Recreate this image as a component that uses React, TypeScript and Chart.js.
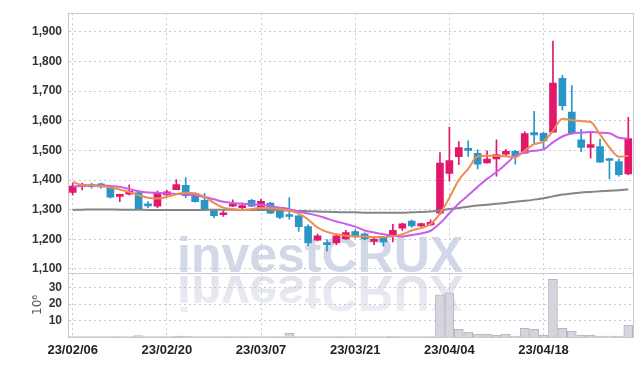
import React, { useEffect, useRef } from 'react';
import { Chart, registerables } from 'chart.js';

Chart.register(...registerables);

const DATES = [
  '23/02/06', '23/02/07', '23/02/08', '23/02/09', '23/02/10', '23/02/13', '23/02/14', '23/02/15', '23/02/16', '23/02/17',
  '23/02/20', '23/02/21', '23/02/22', '23/02/23', '23/02/24', '23/02/27', '23/02/28', '23/03/02', '23/03/03', '23/03/06',
  '23/03/07', '23/03/08', '23/03/09', '23/03/10', '23/03/13', '23/03/14', '23/03/15', '23/03/16', '23/03/17', '23/03/20',
  '23/03/21', '23/03/22', '23/03/23', '23/03/24', '23/03/27', '23/03/28', '23/03/29', '23/03/30', '23/03/31', '23/04/03',
  '23/04/04', '23/04/05', '23/04/06', '23/04/07', '23/04/10', '23/04/11', '23/04/12', '23/04/13', '23/04/14', '23/04/17',
  '23/04/18', '23/04/19', '23/04/20', '23/04/21', '23/04/24', '23/04/25', '23/04/26', '23/04/27', '23/04/28', '23/05/02',
];

const OPEN = [
  1358, 1378, 1383, 1387, 1377, 1345, 1352, 1358, 1317, 1312,
  1350, 1368, 1382, 1355, 1332, 1297, 1283, 1312, 1307, 1332,
  1307, 1322, 1304, 1283, 1279, 1243, 1197, 1188, 1188, 1201,
  1226, 1219, 1193, 1205, 1210, 1238, 1262, 1245, 1249, 1288,
  1422, 1479, 1505, 1490, 1458, 1471, 1487, 1497, 1491, 1560,
  1558, 1562, 1743, 1629, 1536, 1510, 1513, 1470, 1462, 1421,
];
const HIGH = [
  1390, 1390, 1390, 1390, 1380, 1353, 1384, 1360, 1327, 1363,
  1365, 1402, 1408, 1358, 1355, 1300, 1297, 1333, 1322, 1335,
  1335, 1325, 1307, 1341, 1280, 1249, 1218, 1199, 1218, 1230,
  1233, 1222, 1210, 1207, 1251, 1255, 1265, 1255, 1266, 1493,
  1579, 1530, 1532, 1502, 1499, 1536, 1504, 1500, 1563, 1632,
  1562, 1869, 1753, 1719, 1571, 1564, 1538, 1473, 1471, 1612,
];
const LOW = [
  1350, 1367, 1373, 1373, 1340, 1327, 1350, 1300, 1307, 1307,
  1348, 1368, 1341, 1325, 1300, 1273, 1277, 1310, 1300, 1310,
  1300, 1287, 1270, 1268, 1227, 1179, 1195, 1160, 1182, 1200,
  1205, 1198, 1182, 1177, 1191, 1230, 1240, 1243, 1247, 1283,
  1396, 1452, 1480, 1438, 1457, 1413, 1480, 1454, 1490, 1524,
  1504, 1560, 1636, 1555, 1496, 1474, 1460, 1404, 1413, 1418,
];
const CLOSE = [
  1380, 1383, 1378, 1377, 1342, 1348, 1362, 1302, 1313, 1355,
  1360, 1385, 1347, 1327, 1302, 1280, 1287, 1318, 1311, 1312,
  1328, 1288, 1274, 1277, 1243, 1188, 1212, 1182, 1212, 1223,
  1210, 1201, 1197, 1191, 1230, 1252, 1245, 1253, 1257, 1457,
  1466, 1510, 1500, 1454, 1471, 1486, 1497, 1480, 1557, 1552,
  1532, 1727, 1651, 1558, 1510, 1520, 1460, 1466, 1418, 1540,
];

const MA5 = [
  1394, 1383, 1382, 1380, 1375, 1368, 1360, 1349, 1340, 1338,
  1343, 1352, 1357, 1355, 1343, 1323, 1307, 1302, 1298, 1302,
  1307, 1305, 1302, 1297, 1287, 1267, 1240, 1225, 1217, 1212,
  1210, 1210, 1208, 1208, 1210, 1217, 1230, 1238, 1252, 1287,
  1340, 1400, 1438, 1480, 1482, 1482, 1480, 1477, 1499, 1521,
  1530, 1566, 1607, 1602, 1599, 1596, 1554, 1510, 1479, 1482,
];
const MA20 = [
  1378, 1380, 1382, 1382, 1380, 1377, 1370, 1362, 1358, 1357,
  1355, 1353, 1352, 1349, 1343, 1335, 1327, 1323, 1320, 1318,
  1317, 1312, 1307, 1302, 1293, 1287, 1280, 1270, 1260, 1252,
  1243, 1230, 1223, 1217, 1212, 1210, 1215, 1220, 1229, 1254,
  1288, 1321, 1349, 1377, 1404, 1427, 1454, 1482, 1493, 1499,
  1504, 1527, 1547, 1557, 1560, 1562, 1560, 1558, 1543, 1540,
];
const MA60 = [
  1299, 1300, 1301, 1301, 1301, 1300, 1300, 1300, 1299, 1299,
  1299, 1299, 1299, 1299, 1299, 1300, 1300, 1300, 1300, 1299,
  1299, 1299, 1298, 1297, 1296, 1295, 1294, 1293, 1292, 1291,
  1291, 1290, 1290, 1290, 1290, 1290, 1291, 1292, 1294, 1297,
  1302, 1306, 1310, 1314, 1317, 1320, 1323, 1327, 1330, 1334,
  1339, 1345, 1351, 1355, 1358, 1360, 1362, 1364, 1366, 1368,
];

const VOLUME = [
  0.2, 0.2, 0.2, 0.2, 0.2, 0.2, 0.2, 0.8, 0.2, 0.2,
  0.2, 0.5, 0.5, 0.2, 0.2, 0.2, 0.2, 0.2, 0.2, 0.2,
  0.2, 0.2, 0.2, 2.2, 0.2, 0.2, 0.2, 0.2, 0.2, 0.2,
  0.2, 0.2, 0.2, 0.2, 0.6, 0.2, 0.2, 0.2, 0.2, 25.6,
  26.8, 4.6, 3.0, 1.8, 1.8, 1.0, 1.8, 0.6, 5.2, 4.6,
  1.2, 35.1, 5.2, 3.6, 1.2, 1.2, 0.6, 0.6, 0.6, 7.2,
];

const PRICE_TICKS = [1100, 1200, 1300, 1400, 1500, 1600, 1700, 1800, 1900];
const VOLUME_TICKS = [10, 20, 30];
const DATE_TICK_INDEXES = [0, 10, 20, 30, 40, 50];

const UP = '#e3186b';
const DOWN = '#2a96c8';
const GRID = '#c6c8d6';
const FRAME = '#c8c8d0';
const FONT = '"Liberation Sans", Arial, sans-serif';

export default function App() {
  const ref = useRef<HTMLCanvasElement>(null);

  useEffect(() => {
    document.body.style.margin = '0';
    const canvas = ref.current;
    if (!canvas) return;

    const idx = DATES.map((_, i) => i);
    const colors = idx.map((i) => (CLOSE[i] >= OPEN[i] ? UP : DOWN));

    const watermark = {
      id: 'watermark',
      beforeDraw(chart: any) {
        const ctx = chart.ctx;
        const a = chart.chartArea;
        const yv = chart.scales.yv;
        const base = yv.top;
        const x = a.left + 109;
        ctx.save();
        ctx.font = 'bold 50px "Liberation Sans", Arial, sans-serif';
        ctx.textBaseline = 'alphabetic';
        ctx.textAlign = 'left';
        ctx.fillStyle = '#d2d8e8';
        ctx.fillText('investCRUX', x, base - 1);
        ctx.beginPath();
        ctx.rect(a.left, base, a.right - a.left, yv.bottom - base);
        ctx.clip();
        ctx.translate(0, 2 * base + 2);
        ctx.scale(1, -1);
        const g = ctx.createLinearGradient(0, base, 0, base - 45);
        g.addColorStop(0, '#dfe2ec');
        g.addColorStop(1, '#f0f1f6');
        ctx.fillStyle = g;
        ctx.fillText('investCRUX', x, base - 1);
        ctx.restore();
      },
    };

    const frame = {
      id: 'frame',
      afterDraw(chart: any) {
        const ctx = chart.ctx;
        const a = chart.chartArea;
        const yv = chart.scales.yv;
        ctx.save();
        ctx.strokeStyle = FRAME;
        ctx.lineWidth = 1;
        ctx.beginPath();
        ctx.moveTo(a.left, Math.round(a.top) + 0.5);
        ctx.lineTo(Math.round(a.right) + 0.5, Math.round(a.top) + 0.5);
        ctx.lineTo(Math.round(a.right) + 0.5, a.bottom);
        ctx.moveTo(a.left, Math.round(yv.top) + 0.5);
        ctx.lineTo(a.right, Math.round(yv.top) + 0.5);
        ctx.stroke();
        ctx.restore();
      },
    };

    const xFont = { family: FONT, size: 13, weight: 'bold' as const };
    const yFont = { family: FONT, size: 12, weight: 'bold' as const };

    const chart = new Chart(canvas, {
      type: 'bar',
      data: {
        datasets: [
          {
            type: 'line',
            label: 'MA5',
            data: idx.map((i) => ({ x: i, y: MA5[i] })),
            yAxisID: 'y',
            borderColor: '#ef8c4f',
            borderWidth: 2,
            pointRadius: 0,
            cubicInterpolationMode: 'monotone',
            order: 0,
          },
          {
            type: 'line',
            label: 'MA20',
            data: idx.map((i) => ({ x: i, y: MA20[i] })),
            yAxisID: 'y',
            borderColor: '#c95ee8',
            borderWidth: 2,
            pointRadius: 0,
            cubicInterpolationMode: 'monotone',
            order: 0,
          },
          {
            type: 'line',
            label: 'MA60',
            data: idx.map((i) => ({ x: i, y: MA60[i] })),
            yAxisID: 'y',
            borderColor: '#858585',
            borderWidth: 2,
            pointRadius: 0,
            cubicInterpolationMode: 'monotone',
            order: 0,
          },
          {
            type: 'bar',
            label: 'body',
            data: idx.map((i) => ({ x: i, y: [OPEN[i], CLOSE[i]] })),
            yAxisID: 'y',
            backgroundColor: colors,
            barThickness: 7,
            minBarLength: 2,
            grouped: false,
            order: 1,
          },
          {
            type: 'bar',
            label: 'wick',
            data: idx.map((i) => ({ x: i, y: [LOW[i], HIGH[i]] })),
            yAxisID: 'y',
            backgroundColor: colors,
            barThickness: 1,
            grouped: false,
            order: 2,
          },
          {
            type: 'bar',
            label: 'volume',
            data: idx.map((i) => ({ x: i, y: VOLUME[i] })),
            yAxisID: 'yv',
            backgroundColor: '#d5d5dd',
            borderColor: '#b4b4c0',
            borderWidth: 1,
            barThickness: 9,
            grouped: false,
            order: 3,
          },
        ] as any,
      },
      options: {
        responsive: false,
        animation: false,
        layout: { padding: { left: 0, top: 9, right: 9, bottom: 0 } },
        plugins: {
          legend: { display: false },
          tooltip: { enabled: false },
        },
        scales: {
          x: {
            type: 'linear',
            min: -0.5,
            max: 59.5,
            offset: false,
            afterBuildTicks: (s: any) => {
              s.ticks = DATE_TICK_INDEXES.map((v) => ({ value: v }));
            },
            afterFit: (s: any) => {
              s.height = 29;
            },
            ticks: {
              autoSkip: false,
              maxRotation: 0,
              padding: 6,
              color: '#222',
              font: xFont,
              callback: (v: any) => DATES[v] ?? '',
            },
            grid: {
              color: GRID,
              drawTicks: false,
              offset: false,
            },
            border: { color: FRAME, dash: [2, 3] as any },
          } as any,
          y: {
            type: 'linear',
            position: 'left',
            stack: 'panels',
            stackWeight: 263,
            weight: 2,
            min: 1087,
            max: 1963,
            afterBuildTicks: (s: any) => {
              s.ticks = PRICE_TICKS.map((v) => ({ value: v }));
            },
            afterFit: (s: any) => {
              s.width = 68;
            },
            ticks: {
              autoSkip: false,
              padding: 6,
              color: '#333',
              font: yFont,
              callback: (v: any) => Number(v).toLocaleString('en-US'),
            },
            grid: { color: GRID, drawTicks: false },
            border: { color: FRAME, dash: [2, 3] as any },
          } as any,
          yv: {
            type: 'linear',
            position: 'left',
            stack: 'panels',
            stackWeight: 65,
            weight: 1,
            min: 0,
            max: 39,
            afterBuildTicks: (s: any) => {
              s.ticks = VOLUME_TICKS.map((v) => ({ value: v }));
            },
            afterFit: (s: any) => {
              s.width = 68;
            },
            title: {
              display: true,
              text: '10⁶',
              color: '#555',
              font: { family: '"DejaVu Sans", sans-serif', size: 12 },
              padding: { top: 31, bottom: 0 },
            },
            ticks: {
              autoSkip: false,
              padding: 6,
              color: '#333',
              font: yFont,
            },
            grid: { color: GRID, drawTicks: false },
            border: { color: FRAME, dash: [2, 3] as any },
          } as any,
        },
      },
      plugins: [watermark, frame],
    });

    return () => chart.destroy();
  }, []);

  return <canvas ref={ref} width={642} height={366} style={{ display: 'block' }} />;
}
